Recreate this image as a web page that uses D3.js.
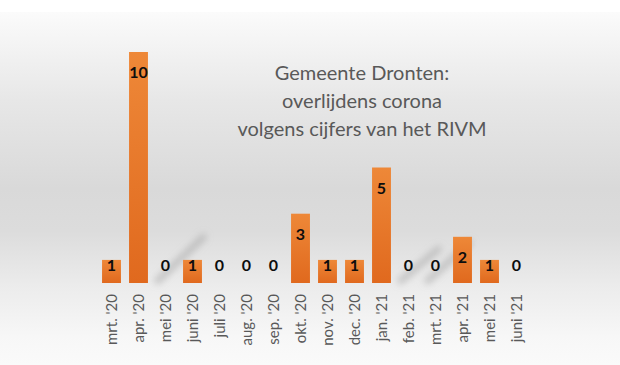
<!DOCTYPE html>
<html>
<head>
<meta charset="utf-8">
<script src="https://cdn.jsdelivr.net/npm/d3@7"></script>
<style>
  body { margin: 0; background: #fff; }
  svg { display: block; }
</style>
</head>
<body>
<script>
// months and deaths per month (Gemeente Dronten, RIVM)
var months = ["mrt. '20", "apr. '20", "mei '20", "juni '20", "juli '20", "aug. '20", "sep. '20",
  "okt. '20", "nov. '20", "dec. '20", "jan. '21", "feb. '21", "mrt. '21", "apr. '21", "mei '21", "juni '21"];
var deaths = [1, 10, 0, 1, 0, 0, 0, 3, 1, 1, 5, 0, 0, 2, 1, 0];
var titleLines = ["Gemeente Dronten:", "overlijdens corona", "volgens cijfers van het RIVM"];

var width = 620;
var height = 365;

var svg = d3.select('body').append('svg')
  .attr('width', width).attr('height', height);

var defs = svg.append('defs');

// background gradient
var bg = defs.append('linearGradient').attr('id', 'bg')
  .attr('x1', 0).attr('y1', 0).attr('x2', 0).attr('y2', 1);
[[0, '#fbfbfb'], [0.25, '#e7e7e7'], [0.5, '#d9d9d9'], [0.62, '#dcdcdc'],
 [0.78, '#ececec'], [0.92, '#f7f7f7'], [1, '#fafafa']].forEach(function(s) {
  bg.append('stop').attr('offset', s[0]).attr('stop-color', s[1]);
});

// bar gradient
var bar = defs.append('linearGradient').attr('id', 'bar')
  .attr('x1', 0).attr('y1', 0).attr('x2', 0).attr('y2', 1);
bar.append('stop').attr('offset', 0).attr('stop-color', '#ee8838');
bar.append('stop').attr('offset', 1).attr('stop-color', '#e0691e');

defs.append('filter').attr('id', 'blur')
  .attr('x', -0.5).attr('y', -0.5).attr('width', 2).attr('height', 2)
  .append('feGaussianBlur').attr('stdDeviation', 3.5);

svg.append('rect').attr('x', 0).attr('y', 12).attr('width', width).attr('height', height - 12)
  .attr('fill', 'url(#bg)');

var x = d3.scaleBand().domain(months).range([98, 530])
  .paddingInner(0.3).paddingOuter(0.15);
var y = d3.scaleLinear().domain([0, 10]).range([283, 52]);

// soft shadow streaks
var shadows = [[2, 4], [11, 2], [12, 3]];
var sg = svg.append('g').attr('filter', 'url(#blur)');
shadows.forEach(function(s) {
  var cx = x(months[s[0]]) + x.bandwidth() / 2;
  sg.append('line')
    .attr('x1', cx - 8).attr('y1', y(0) - 2)
    .attr('x2', cx + 22 + s[1] * 4).attr('y2', y(0) - 22 - s[1] * 6)
    .attr('stroke', '#9a9a9a').attr('stroke-width', 6).attr('stroke-opacity', 0.55)
    .attr('stroke-linecap', 'round');
});

// bars
svg.append('g').selectAll('rect').data(deaths).enter().append('rect')
  .attr('x', function(d, i) { return x(months[i]); })
  .attr('y', function(d) { return y(d); })
  .attr('width', x.bandwidth())
  .attr('height', function(d) { return y(0) - y(d); })
  .attr('fill', 'url(#bar)');

// value labels
svg.append('g').selectAll('text').data(deaths).enter().append('text')
  .attr('x', function(d, i) { return x(months[i]) + x.bandwidth() / 2; })
  .attr('y', function(d) { return Math.min(y(d) + 20.5, y(0) - 18); })
  .attr('dy', '0.35em')
  .attr('text-anchor', 'middle')
  .style('font-family', 'Lato, "Open Sans", sans-serif')
  .style('font-weight', 'bold')
  .style('font-size', '16px')
  .attr('fill', '#0d0d0d')
  .text(function(d) { return d; });

// x axis labels
var xAxis = d3.axisBottom(x).tickSize(0).tickPadding(0);
var gx = svg.append('g').attr('transform', 'translate(0,' + (y(0) + 11) + ')').call(xAxis);
gx.select('.domain').remove();
gx.selectAll('text')
  .attr('transform', 'rotate(-90)')
  .attr('text-anchor', 'end')
  .attr('x', 0).attr('y', 0).attr('dy', '0.35em')
  .style('font-family', 'Lato, "Open Sans", sans-serif')
  .style('font-size', '15px')
  .attr('fill', '#595959');

// title
svg.append('text')
  .attr('x', 362).attr('y', 80)
  .attr('text-anchor', 'middle')
  .style('font-family', 'Lato, "Open Sans", sans-serif')
  .style('font-size', '20px')
  .attr('fill', '#595959')
  .selectAll('tspan').data(titleLines).enter().append('tspan')
  .attr('x', 362)
  .attr('dy', function(d, i) { return i === 0 ? 0 : 28; })
  .text(function(d) { return d; });
</script>
</body>
</html>
